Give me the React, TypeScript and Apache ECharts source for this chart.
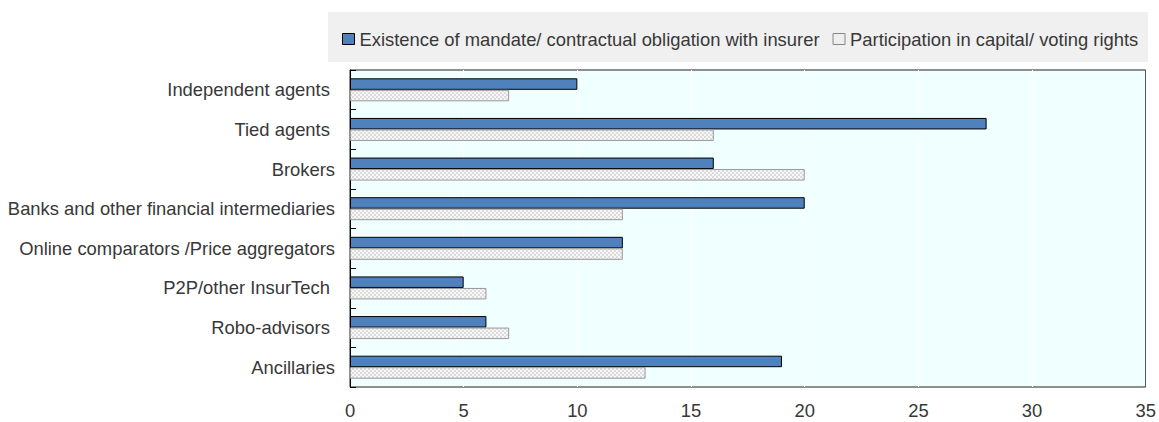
import React, { useEffect, useRef } from "react";
import * as echarts from "echarts";

const categories = [
  "Independent agents ",
  "Tied agents ",
  "Brokers",
  "Banks and other financial intermediaries",
  "Online comparators /Price aggregators",
  "P2P/other InsurTech ",
  "Robo-advisors ",
  "Ancillaries",
];

const mandateValues = [10, 28, 16, 20, 12, 5, 6, 19];
const capitalValues = [7, 16, 20, 12, 12, 6, 7, 13];

const seriesNames = [
  "Existence of mandate/ contractual obligation with insurer",
  "Participation in capital/ voting rights",
];

const xTicks = [0, 5, 10, 15, 20, 25, 30, 35];

const FONT = "'Liberation Sans', Arial, sans-serif";
const FONT_SIZE = 18.4;
const TEXT_COLOR = "#383838";

// small checkerboard tile used as the fill of the second series
function makeChecker(): string {
  const c = document.createElement("canvas");
  c.width = 4;
  c.height = 4;
  const ctx = c.getContext("2d")!;
  ctx.fillStyle = "#f7f7f7";
  ctx.fillRect(0, 0, 4, 4);
  ctx.fillStyle = "#dcdcdc";
  ctx.fillRect(0, 0, 2, 2);
  ctx.fillRect(2, 2, 2, 2);
  return c.toDataURL();
}

export default function App() {
  const ref = useRef<HTMLDivElement>(null);

  useEffect(() => {
    if (!ref.current) return;
    const chart = echarts.init(ref.current, undefined, { renderer: "svg" });
    const checker = makeChecker();

    chart.setOption({
      animation: false,
      textStyle: { fontFamily: FONT },
      graphic: [
        {
          type: "rect",
          z: 0,
          shape: { x: 328, y: 12, width: 820, height: 50 },
          style: { fill: "#f0f0f0" },
        },
      ],
      legend: {
        left: 342,
        top: 30,
        padding: 0,
        itemGap: 13,
        itemWidth: 12,
        itemHeight: 11,
        textStyle: { fontSize: FONT_SIZE, color: TEXT_COLOR, fontFamily: FONT, padding: [0, 0, 0, 0] },
        data: [
          {
            name: seriesNames[0],
            icon: "rect",
            itemStyle: { color: "#4f81bd", borderColor: "#000", borderWidth: 1 },
          },
          {
            name: seriesNames[1],
            icon: "rect",
            itemStyle: { color: "#eeeeee", borderColor: "#888", borderWidth: 1 },
          },
        ],
      },
      grid: {
        left: 350,
        right: 12,
        top: 70,
        bottom: 35,
        show: true,
        backgroundColor: "#f0ffff",
        borderColor: "#222",
        borderWidth: 1,
      },
      xAxis: {
        type: "value",
        min: xTicks[0],
        max: xTicks[xTicks.length - 1],
        interval: 5,
        axisLine: { show: false },
        axisTick: { show: false },
        axisLabel: { fontSize: FONT_SIZE, color: TEXT_COLOR, margin: 14, fontFamily: FONT },
        splitLine: { show: true, lineStyle: { color: "#ffffff", width: 1 } },
      },
      yAxis: {
        type: "category",
        inverse: true,
        data: categories,
        axisLine: { show: true, lineStyle: { color: "#000" } },
        axisTick: { show: true, inside: true, length: 6, lineStyle: { color: "#000" } },
        axisLabel: { fontSize: FONT_SIZE, color: TEXT_COLOR, margin: 15, fontFamily: FONT },
        splitLine: { show: false },
      },
      series: [
        {
          name: seriesNames[0],
          type: "bar",
          data: mandateValues,
          barWidth: 11.5,
          barGap: "0%",
          itemStyle: { color: "#4f81bd", borderColor: "#000", borderWidth: 1 },
        },
        {
          name: seriesNames[1],
          type: "bar",
          data: capitalValues,
          barWidth: 11.5,
          barGap: "0%",
          itemStyle: {
            color: { image: checker, repeat: "repeat" },
            borderColor: "#999",
            borderWidth: 1,
          },
        },
      ],
    });

    return () => chart.dispose();
  }, []);

  return (
    <div
      ref={ref}
      style={{ position: "absolute", left: 0, top: 0, width: 1159, height: 422 }}
    />
  );
}
